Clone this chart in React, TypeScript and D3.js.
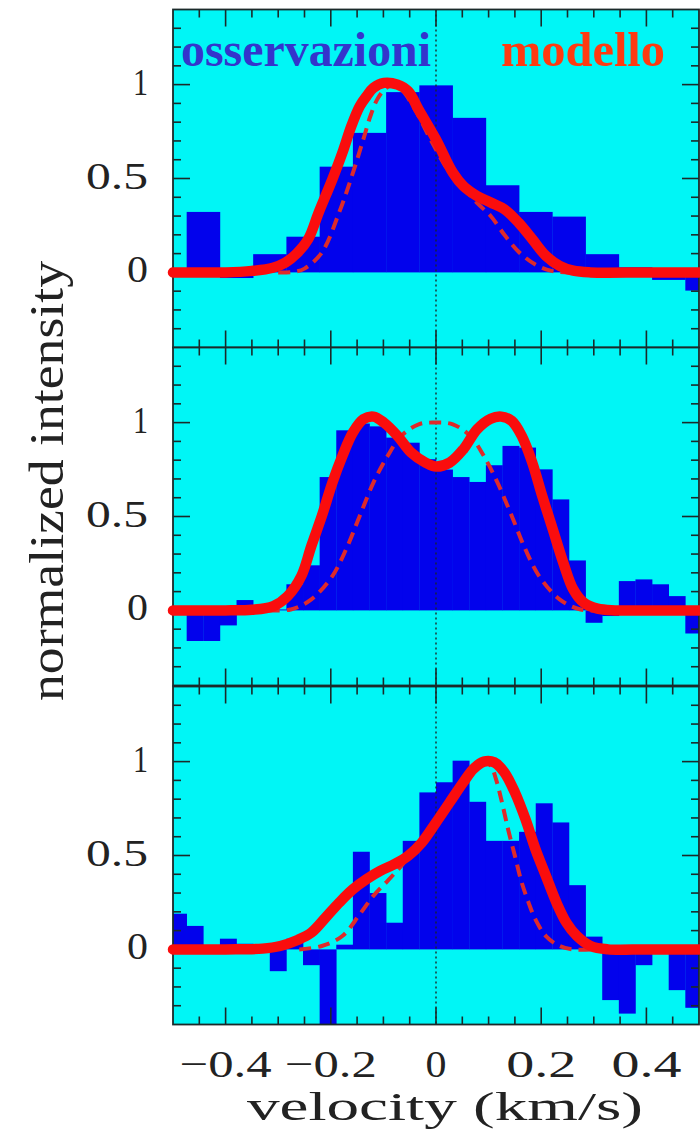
import React from "react";
import * as d3 from "d3";

// ---------- data ----------
const channelWidth = 0.0316; // km/s

// panel 1: binned observations (2 channels per bin), bins centred on k*2*channelWidth, k=-8..8
const obsPanel1 = [0.0, 0.322, -0.03, 0.097, 0.19, 0.563, 0.743, 0.96, 0.996, 0.823, 0.464, 0.322, 0.297, 0.097, 0.027, -0.04, -0.097];

// panels 2 & 3: single channels centred on (j+0.5)*channelWidth, j=-16..15
const obsPanel2 = [
  -0.01, -0.163, -0.163, -0.08, 0.055, 0.01, 0.005, 0.139, 0.24, 0.71, 0.959, 0.995, 0.98, 0.92, 0.893, 0.805,
  0.75, 0.71, 0.684, 0.773, 0.876, 0.867, 0.751, 0.591, 0.266, -0.066, -0.03, 0.156, 0.165, 0.139, 0.076, -0.123,
];
const obsPanel3 = [
  0.19, 0.125, 0.01, 0.057, 0.03, 0.0, -0.116, 0.057, -0.084, -0.45, 0.025, 0.52, 0.3, 0.142, 0.578, 0.836,
  0.89, 1.005, 0.786, 0.578, 0.578, 0.626, 0.778, 0.676, 0.342, 0.068, -0.27, -0.342, -0.084, -0.005, -0.217, -0.311,
];

// model curves [velocity, intensity]
const modelPanel1: [number, number][] = [
  [-0.5, 0], [-0.4, 0], [-0.35, 0.008], [-0.31, 0.025], [-0.286, 0.053], [-0.265, 0.1], [-0.243, 0.177],
  [-0.223, 0.319], [-0.197, 0.496], [-0.178, 0.637], [-0.161, 0.779], [-0.145, 0.885], [-0.132, 0.938],
  [-0.119, 0.982], [-0.099, 1.009], [-0.073, 1.0], [-0.053, 0.965], [-0.033, 0.867], [0, 0.708],
  [0.032, 0.531], [0.052, 0.46], [0.078, 0.407], [0.104, 0.372], [0.13, 0.336], [0.157, 0.265],
  [0.183, 0.177], [0.209, 0.088], [0.235, 0.035], [0.261, 0.009], [0.294, 0], [0.4, 0], [0.5, 0],
];
const modelDashedPanel1: [number, number][] = [
  [-0.3, 0], [-0.27, 0.003], [-0.25, 0.02], [-0.217, 0.106], [-0.184, 0.32], [-0.158, 0.53], [-0.138, 0.71],
  [-0.125, 0.83], [-0.112, 0.92], [-0.099, 0.97], [-0.086, 0.995], [-0.066, 0.973], [-0.04, 0.867],
  [-0.007, 0.69], [0.026, 0.53], [0.052, 0.45], [0.078, 0.37], [0.104, 0.3], [0.13, 0.2], [0.157, 0.11],
  [0.19, 0.04], [0.22, 0.008], [0.25, 0], [0.3, 0],
];
const modelPanel2: [number, number][] = [
  [-0.5, 0], [-0.4, 0], [-0.35, 0.003], [-0.309, 0.023], [-0.282, 0.076], [-0.256, 0.183], [-0.237, 0.343],
  [-0.217, 0.503], [-0.197, 0.68], [-0.178, 0.822], [-0.158, 0.947], [-0.138, 1.018], [-0.119, 1.032],
  [-0.099, 1.0], [-0.073, 0.929], [-0.047, 0.84], [-0.02, 0.787], [0, 0.766], [0.026, 0.787], [0.052, 0.858],
  [0.078, 0.964], [0.104, 1.021], [0.124, 1.032], [0.144, 1.009], [0.163, 0.929], [0.183, 0.787],
  [0.202, 0.609], [0.222, 0.432], [0.242, 0.254], [0.261, 0.112], [0.281, 0.041], [0.307, 0.009],
  [0.34, 0], [0.4, 0], [0.5, 0],
];
const modelDashedPanel2: [number, number][] = [
  [-0.32, 0], [-0.276, 0.005], [-0.237, 0.059], [-0.197, 0.183], [-0.171, 0.325], [-0.145, 0.503],
  [-0.119, 0.68], [-0.092, 0.822], [-0.066, 0.929], [-0.033, 0.991], [0, 1.0], [0.032, 0.991],
  [0.065, 0.929], [0.091, 0.822], [0.117, 0.68], [0.144, 0.503], [0.17, 0.325], [0.196, 0.183],
  [0.235, 0.059], [0.275, 0.005], [0.32, 0],
];
const modelPanel3: [number, number][] = [
  [-0.5, 0], [-0.4, 0], [-0.33, 0.004], [-0.296, 0.018], [-0.263, 0.05], [-0.237, 0.089], [-0.21, 0.169],
  [-0.184, 0.249], [-0.158, 0.32], [-0.132, 0.374], [-0.106, 0.418], [-0.079, 0.454], [-0.053, 0.498],
  [-0.027, 0.569], [0, 0.676], [0.026, 0.783], [0.052, 0.89], [0.071, 0.961], [0.091, 1.0], [0.111, 0.996],
  [0.13, 0.943], [0.15, 0.836], [0.17, 0.694], [0.189, 0.534], [0.209, 0.391], [0.229, 0.249],
  [0.248, 0.142], [0.268, 0.071], [0.294, 0.018], [0.327, 0], [0.4, 0], [0.5, 0],
];
const modelDashedPanel3: [number, number][] = [
  [-0.26, 0], [-0.217, 0.018], [-0.178, 0.071], [-0.145, 0.187], [-0.119, 0.285], [-0.092, 0.365],
  [-0.066, 0.445], [-0.04, 0.534], [0, 0.676], [0.039, 0.819], [0.071, 0.943], [0.094, 0.993],
  [0.104, 0.979], [0.114, 0.907], [0.124, 0.8], [0.137, 0.64], [0.15, 0.498], [0.163, 0.356],
  [0.176, 0.249], [0.189, 0.16], [0.209, 0.071], [0.235, 0.018], [0.261, 0], [0.3, 0],
];

const xTickValues = [-0.4, -0.2, 0, 0.2, 0.4];
const xTickLabels = ["\u22120.4", "\u22120.2", "0", "0.2", "0.4"];
const yTickValues = [0, 0.5, 1];
const yTickLabels = ["0", "0.5", "1"];

// ---------- layout ----------
const W = 700;
const H = 1131;
const X0 = 173;
const X1 = 699;
const panelTops = [9.5, 347.5, 686.5];
const panelH = 338;

const x = d3.scaleLinear().domain([-0.5, 0.5]).range([X0, X1]);

type Bar = { c: number; w: number; v: number };
const bars1: Bar[] = obsPanel1.map((v, i) => ({ c: (i - 8) * 2 * channelWidth, w: 2 * channelWidth, v }));
const bars2: Bar[] = obsPanel2.map((v, i) => ({ c: (i - 16 + 0.5) * channelWidth, w: channelWidth, v }));
const bars3: Bar[] = obsPanel3.map((v, i) => ({ c: (i - 16 + 0.5) * channelWidth, w: channelWidth, v }));

const panels = [
  { bars: bars1, solid: modelPanel1, dashed: modelDashedPanel1 },
  { bars: bars2, solid: modelPanel2, dashed: modelDashedPanel2 },
  { bars: bars3, solid: modelPanel3, dashed: modelDashedPanel3 },
];

const CYAN = "#00f6f6";
const BLUE = "#0202ec";
const RED = "#fa0d0d";
const DASH_RED = "#de2a2a";
const INK = "#1b2a2a";

const minorX = d3.range(-0.45, 0.5, 0.05);
const minorY = d3.range(-0.3, 1.35, 0.1);

function Panel({ idx }: { idx: number }) {
  const top = panelTops[idx];
  const y = d3.scaleLinear().domain([-0.4, 1.4]).range([top + panelH, top]);
  const p = panels[idx];
  const line = d3
    .line<[number, number]>()
    .x((d) => x(d[0]))
    .y((d) => y(d[1]))
    .curve(d3.curveCatmullRom.alpha(0.5));
  const clipId = `clip${idx}`;
  const isMajorX = (v: number) => xTickValues.some((t) => Math.abs(t - v) < 1e-6);
  const isMajorY = (v: number) => yTickValues.some((t) => Math.abs(t - v) < 1e-6);
  return (
    <g>
      <defs>
        <clipPath id={clipId}>
          <rect x={X0} y={top} width={X1 - X0} height={panelH} />
        </clipPath>
      </defs>
      <rect x={X0} y={top} width={X1 - X0} height={panelH} fill={CYAN} />
      <g clipPath={`url(#${clipId})`}>
        {p.bars.map((b, i) => {
          const y0 = y(0);
          const yv = y(b.v);
          return (
            <rect
              key={i}
              x={x(b.c - b.w / 2)}
              width={x(b.c + b.w / 2) - x(b.c - b.w / 2) + 0.3}
              y={Math.min(y0, yv)}
              height={Math.abs(yv - y0)}
              fill={BLUE}
            />
          );
        })}
        <line x1={x(0)} x2={x(0)} y1={top} y2={top + panelH} stroke={INK} strokeWidth={1.4} strokeDasharray="2,3" />
      </g>
      {/* ticks */}
      {minorX.map((v, i) => {
        const len = isMajorX(v) ? 17 : 8;
        return (
          <g key={"xt" + i}>
            <line x1={x(v)} x2={x(v)} y1={top} y2={top + len} stroke={INK} strokeWidth={1.6} />
            <line x1={x(v)} x2={x(v)} y1={top + panelH} y2={top + panelH - len} stroke={INK} strokeWidth={1.6} />
          </g>
        );
      })}
      {minorY.map((v, i) => {
        const len = isMajorY(v) ? 17 : 8;
        return (
          <g key={"yt" + i}>
            <line x1={X0} x2={X0 + len} y1={y(v)} y2={y(v)} stroke={INK} strokeWidth={1.6} />
            <line x1={X1} x2={X1 - len} y1={y(v)} y2={y(v)} stroke={INK} strokeWidth={1.6} />
          </g>
        );
      })}
      <rect x={X0} y={top} width={X1 - X0} height={panelH} fill="none" stroke={INK} strokeWidth={1.8} />
      {/* model lines */}
      <path d={line(p.dashed) || ""} fill="none" stroke={DASH_RED} strokeWidth={4} strokeDasharray="12,7" />
      <path
        d={line(p.solid) || ""}
        fill="none"
        stroke={RED}
        strokeWidth={10.5}
        strokeLinecap="round"
        strokeLinejoin="round"
      />
      {/* y tick labels */}
      {yTickValues.map((v, i) => (
        <text
          key={"yl" + i}
          x={148}
          y={y(v) + 10}
          textAnchor="end"
          fontFamily="Liberation Serif"
          fontSize={37}
          fill="#222"
          textLength={yTickLabels[i] === "0.5" ? 62 : yTickLabels[i] === "1" ? 15 : 21}
          lengthAdjust="spacingAndGlyphs"
        >
          {yTickLabels[i]}
        </text>
      ))}
    </g>
  );
}

export default function App() {
  const bottom = panelTops[2] + panelH;
  return (
    <svg
      width={W}
      height={H}
      viewBox={`0 0 ${W} ${H}`}
      style={{ position: "absolute", left: 0, top: 0, background: "#fff" }}
    >
      <rect x={0} y={0} width={W} height={H} fill="#fff" />
      {[0, 1, 2].map((i) => (
        <Panel key={i} idx={i} />
      ))}
      {/* legend words */}
      <text x={181} y={66} fontFamily="Liberation Serif" fontWeight="bold" fontSize={48} fill="#3434cc" textLength={250} lengthAdjust="spacingAndGlyphs">
        osservazioni
      </text>
      <text x={501} y={66} fontFamily="Liberation Serif" fontWeight="bold" fontSize={48} fill="#ff3a10" textLength={164} lengthAdjust="spacingAndGlyphs">
        modello
      </text>
      {/* x tick labels */}
      {xTickValues.map((v, i) => (
        <text
          key={"xl" + i}
          x={x(v)}
          y={bottom + 52}
          textAnchor="middle"
          fontFamily="Liberation Serif"
          fontSize={38}
          fill="#222"
          textLength={xTickLabels[i].length === 4 ? 92 : xTickLabels[i].length === 3 ? 70 : 21}
          lengthAdjust="spacingAndGlyphs"
        >
          {xTickLabels[i]}
        </text>
      ))}
      <text
        x={445}
        y={1120}
        textAnchor="middle"
        fontFamily="Liberation Serif"
        fontSize={40}
        fill="#222"
        textLength={396}
        lengthAdjust="spacingAndGlyphs"
      >
        velocity (km/s)
      </text>
      <text
        transform="translate(63,481) rotate(-90)"
        textAnchor="middle"
        fontFamily="Liberation Serif"
        fontSize={48}
        fill="#222"
        textLength={440}
        lengthAdjust="spacingAndGlyphs"
      >
        normalized intensity
      </text>
    </svg>
  );
}
